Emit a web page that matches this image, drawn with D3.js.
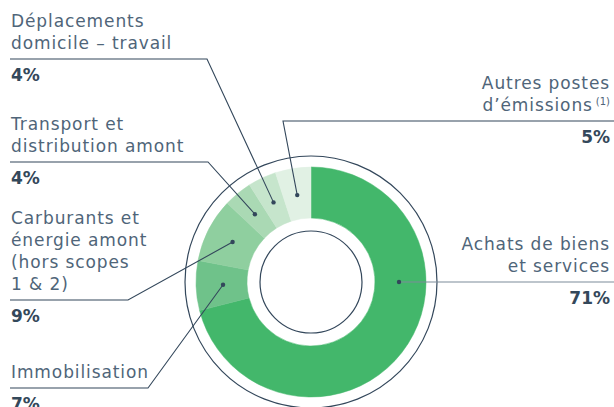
<!DOCTYPE html>
<html>
<head>
<meta charset="utf-8">
<script src="https://cdn.jsdelivr.net/npm/d3@7"></script>
<style>
  body { margin: 0; background: #fff; }
  svg { display: block; }
  .lbl { font-family: "DejaVu Sans", sans-serif; font-size: 17px; letter-spacing: 0.9px; fill: #4f6579; }
  .pct { font-family: "DejaVu Sans", sans-serif; font-size: 17px; font-weight: bold; fill: #34485a; }
</style>
</head>
<body>
<div id="chart"></div>
<script>
// slices, clockwise from 12 o'clock
var categories = ["Achats de biens et services", "Immobilisation", "Carburants et énergie amont (hors scopes 1 & 2)",
                  "Transport et distribution amont", "Déplacements domicile – travail", "Autres postes d’émissions"];
var values = [71, 7, 9, 4, 4, 5];
var pctLabels = ["71%", "7%", "9%", "4%", "4%", "5%"];
var labelLines = [
    ["Achats de biens", "et services"],
    ["Immobilisation"],
    ["Carburants et", "énergie amont", "(hors scopes", "1 & 2)"],
    ["Transport et", "distribution amont"],
    ["Déplacements", "domicile – travail"],
    ["Autres postes", "d’émissions"]
];
var colors = ["#43b76b", "#6fc28a", "#8fcf9f", "#aad9b4", "#c6e5cc", "#e1f1e4"];

// label placement (layout only)
var layout = [
    { side: "right", elbow: [398, 282], lineY: 282, dotAngle: Math.PI / 2 },
    { side: "left", elbow: [148, 388], lineY: 388 },
    { side: "left", elbow: [128, 300], lineY: 300 },
    { side: "left", elbow: [208, 162], lineY: 162 },
    { side: "left", elbow: [207, 59], lineY: 59 },
    { side: "right", elbow: [283, 121], lineY: 121, sup: "(1)" }
];

var width = 614, height = 407;
var cx = 311, cy = 282;
var rOuterRing = 126, rOuter = 115, rInner = 64, rInnerRing = 51, rDot = 88;

var svg = d3.select("#chart").append("svg")
    .attr("width", width)
    .attr("height", height);

var g = svg.append("g").attr("transform", "translate(" + cx + "," + cy + ")");

var pie = d3.pie().sort(null).value(function(d) { return d; });
var arc = d3.arc().innerRadius(rInner).outerRadius(rOuter);
var arcs = pie(values);

g.append("circle").attr("r", rOuterRing).attr("fill", "none").attr("stroke", "#33475b").attr("stroke-width", 1.2);
g.append("circle").attr("r", rInnerRing).attr("fill", "none").attr("stroke", "#33475b").attr("stroke-width", 1.2);

g.selectAll("path.slice")
    .data(arcs)
    .enter().append("path")
    .attr("class", "slice")
    .attr("d", arc)
    .attr("fill", function(d, i) { return colors[i]; })
    .attr("stroke", function(d, i) { return colors[i]; })
    .attr("stroke-width", 0.5);

// leader lines + dots
arcs.forEach(function(a, i) {
    var L = layout[i];
    var ang = L.dotAngle != null ? L.dotAngle : (a.startAngle + a.endAngle) / 2;
    var dx = cx + rDot * Math.sin(ang), dy = cy - rDot * Math.cos(ang);
    var endX = L.side === "left" ? 10 : width;
    var pts = [[dx, dy], L.elbow, [endX, L.lineY]];
    svg.append("path")
        .attr("d", d3.line()(pts))
        .attr("fill", "none")
        .attr("stroke", i === 0 ? "#7d8c9a" : "#33475b")
        .attr("stroke-width", 1.1);
    svg.append("circle").attr("cx", dx).attr("cy", dy).attr("r", 2.2).attr("fill", "#33475b");

    var lines = labelLines[i];
    var anchor = L.side === "left" ? "start" : "end";
    var tx = L.side === "left" ? 11 : 610;
    var lh = 22;
    lines.forEach(function(s, k) {
        var t = svg.append("text")
            .attr("class", "lbl")
            .attr("x", tx)
            .attr("y", L.lineY - 10 - (lines.length - 1 - k) * lh)
            .attr("text-anchor", anchor)
            .text(s);
        if (L.sup && k === lines.length - 1) {
            t.append("tspan").attr("dx", 3).attr("dy", -6).style("font-size", "10px").style("letter-spacing", "0px").text(L.sup);
        }
    });
    svg.append("text")
        .attr("class", "pct")
        .attr("x", tx)
        .attr("y", L.lineY + 22)
        .attr("text-anchor", anchor)
        .text(pctLabels[i]);
});
</script>
</body>
</html>
